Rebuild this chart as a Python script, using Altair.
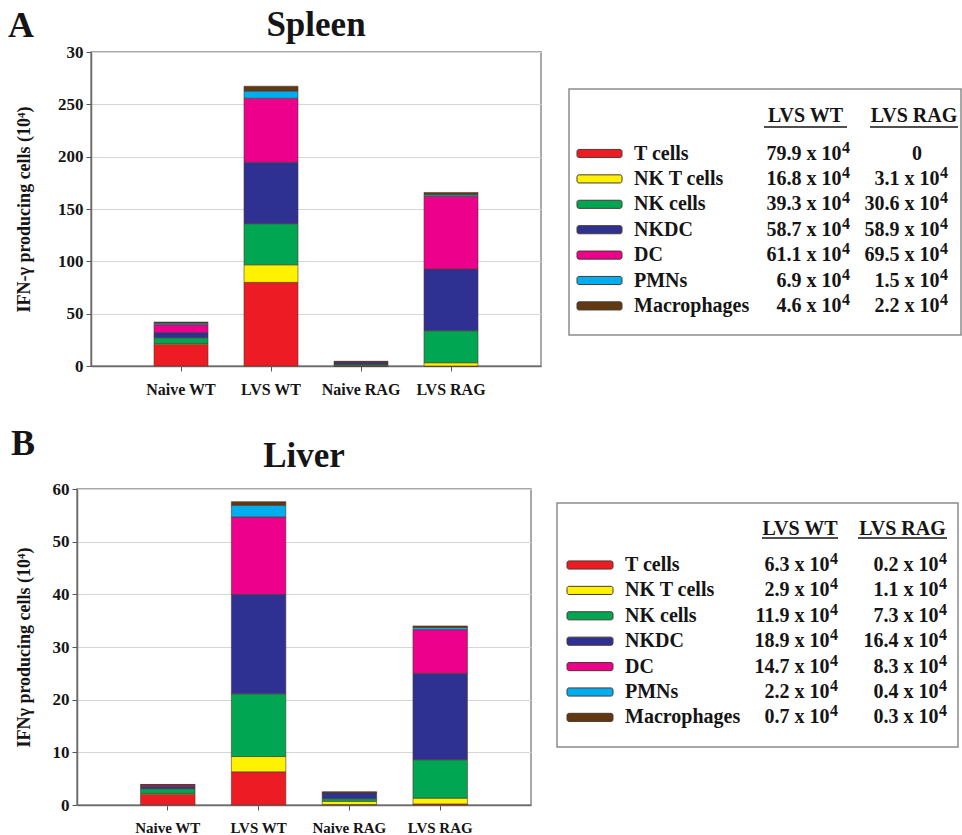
import altair as alt
import pandas as pd

# ---------------- data ----------------
cell_types = ["T cells", "NK T cells", "NK cells", "NKDC", "DC", "PMNs", "Macrophages"]
cell_colors = ["#ed1c24", "#fff200", "#00a651", "#2e3192", "#ec008c", "#00aeef", "#603913"]
groups = ["Naive WT", "LVS WT", "Naive RAG", "LVS RAG"]
column_headers = ["LVS WT", "LVS RAG"]

# Spleen (x 10^4 IFN-gamma producing cells), stacked in cell_types order
spleen_naive_wt = [20.5, 1.0, 5.5, 5.0, 7.5, 1.5, 1.0]
spleen_lvs_wt = [79.9, 16.8, 39.3, 58.7, 61.1, 6.9, 4.6]
spleen_naive_rag = [0.0, 0.3, 1.2, 2.0, 0.5, 0.2, 0.3]
spleen_lvs_rag = [0.0, 3.1, 30.6, 58.9, 69.5, 1.5, 2.2]

# Liver
liver_naive_wt = [2.0, 0.2, 0.9, 0.4, 0.3, 0.05, 0.05]
liver_lvs_wt = [6.3, 2.9, 11.9, 18.9, 14.7, 2.2, 0.7]
liver_naive_rag = [0.1, 0.6, 0.5, 1.1, 0.05, 0.05, 0.1]
liver_lvs_rag = [0.2, 1.1, 7.3, 16.4, 8.3, 0.4, 0.3]

spleen_y_ticks = [0, 50, 100, 150, 200, 250, 300]
liver_y_ticks = [0, 10, 20, 30, 40, 50, 60]

FONT = "Liberation Serif"
INK = "#151515"


def bar_frame(group_values):
    rows = []
    for g, vals in zip(groups, group_values):
        for i, (c, v) in enumerate(zip(cell_types, vals)):
            rows.append({"group": g, "cell": c, "order": i, "value": v})
    return pd.DataFrame(rows)


def bar_panel(group_values, title, letter, y_title, y_max, y_ticks, width, height,
              title_pad, title_y, letter_x, letter_y, xfont, label_expr=None):
    yaxis_kw = dict(values=y_ticks, title=y_title, titleFont=FONT, titleFontSize=18,
                    titleFontWeight="bold", titleColor=INK, titlePadding=title_pad,
                    labelFont=FONT, labelFontSize=17, labelFontWeight="bold", labelColor=INK,
                    labelPadding=3, tickSize=5, tickColor="#555555", domainColor="#6b6b6b",
                    domainWidth=1.5, grid=True, gridColor="#d6d6d6", gridWidth=1)
    if label_expr:
        yaxis_kw["labelExpr"] = label_expr
    bars = alt.Chart(bar_frame(group_values)).mark_bar(stroke="#4f3a2e", strokeWidth=0.6).encode(
        x=alt.X("group:N", sort=groups,
                scale=alt.Scale(paddingInner=0.4, paddingOuter=0.7),
                axis=alt.Axis(title=None, labelAngle=0, labelFont=FONT, labelFontSize=xfont,
                              labelFontWeight="bold", labelColor=INK, labelPadding=10,
                              tickSize=5, tickColor="#555555", domainColor="#6b6b6b",
                              domainWidth=1.5, grid=False)),
        y=alt.Y("value:Q", stack="zero", scale=alt.Scale(domain=[0, y_max], nice=False),
                axis=alt.Axis(**yaxis_kw)),
        color=alt.Color("cell:N", scale=alt.Scale(domain=cell_types, range=cell_colors), legend=None),
        order=alt.Order("order:Q", sort="ascending"),
    )
    tdf = pd.DataFrame({"t": [letter], "title": [title]})
    tag = alt.Chart(tdf).mark_text(
        align="left", baseline="alphabetic", font=FONT, fontSize=36, fontWeight="bold", color=INK
    ).encode(x=alt.value(letter_x), y=alt.value(letter_y), text="t:N")
    head = alt.Chart(tdf).mark_text(
        align="center", baseline="alphabetic", font=FONT, fontSize=35, fontWeight="bold", color=INK
    ).encode(x=alt.value(width / 2), y=alt.value(title_y), text="title:N")
    return alt.layer(bars, tag, head).properties(width=width, height=height)


def table_panel(wt_vals, rag_vals, p):
    df = pd.DataFrame({"cell": cell_types, "row": list(range(len(cell_types))),
                       "wt": wt_vals, "rag": rag_vals})
    lo = -p["row0"] / p["step"]
    hi = (p["h"] - p["row0"]) / p["step"]
    yscale = alt.Scale(domain=[lo, hi], reverse=True, nice=False, zero=False)
    yenc = alt.Y("row:Q", scale=yscale, axis=None)
    base = alt.Chart(df).transform_calculate(
        wt_txt="format(datum.wt, '.1f') + ' x 10'",
        rag_txt="format(datum.rag, '.1f') + ' x 10'",
        top="datum.row - 0.16",
        bot="datum.row + 0.16",
    )
    tk = dict(font=FONT, fontSize=20, fontWeight="bold", color=INK, baseline="middle")
    sk = dict(font=FONT, fontSize=16, fontWeight="bold", color=INK, baseline="middle", dy=-6)
    layers = []
    layers.append(base.mark_rect(stroke="#4a3a30", strokeWidth=1, cornerRadius=2).encode(
        x=alt.value(p["sw"][0]), x2=alt.value(p["sw"][1]),
        y=alt.Y("top:Q", scale=yscale, axis=None), y2="bot:Q",
        color=alt.Color("cell:N", scale=alt.Scale(domain=cell_types, range=cell_colors), legend=None)))
    layers.append(base.mark_text(align="left", **tk).encode(
        x=alt.value(p["lab_x"]), y=yenc, text="cell:N"))
    for key, right, center in (("wt", p["wt_r"], p["wt_c"]), ("rag", p["rag_r"], p["rag_c"])):
        nz = base.transform_filter(f"datum.{key} != 0")
        layers.append(nz.mark_text(align="right", **tk).encode(
            x=alt.value(right - p["sup_w"]), y=yenc, text=f"{key}_txt:N"))
        layers.append(nz.mark_text(align="right", **sk).encode(
            x=alt.value(right), y=yenc, text=alt.value("4")))
        layers.append(base.transform_filter(f"datum.{key} == 0").mark_text(align="center", **tk).encode(
            x=alt.value(center), y=yenc, text=alt.value("0")))
    for name, (x0, x1) in zip(column_headers, (p["ul_wt"], p["ul_rag"])):
        hdf = pd.DataFrame({"h": [name]})
        layers.append(alt.Chart(hdf).mark_text(align="center", **tk).encode(
            x=alt.value((x0 + x1) / 2), y=alt.value(p["hdr_y"]), text="h:N"))
        layers.append(alt.Chart(hdf).mark_rule(color=INK, strokeWidth=1.4).encode(
            x=alt.value(x0), x2=alt.value(x1), y=alt.value(p["ul_y"])))
    return alt.layer(*layers).properties(width=p["w"], height=p["h"])


def spacer(h, lead=0):
    # invisible spacer; `lead` pushes the following column to the right
    return alt.Chart(pd.DataFrame({"s": [0]})).mark_point(size=0, opacity=0, strokeWidth=0).encode(
        x=alt.value(-lead), y=alt.value(4)
    ).properties(width=1, height=h, view=alt.ViewBackground(stroke="transparent", strokeWidth=0))


spleen = bar_panel([spleen_naive_wt, spleen_lvs_wt, spleen_naive_rag, spleen_lvs_rag],
                   "Spleen", "A", "IFN-\u03b3 producing cells (10\u2074)", 300, spleen_y_ticks,
                   450, 314, title_pad=24, title_y=-16, letter_x=-83, letter_y=-15, xfont=16,
                   label_expr="datum.value == 300 ? '30' : datum.label")
liver = bar_panel([liver_naive_wt, liver_lvs_wt, liver_naive_rag, liver_lvs_rag],
                  "Liver", "B", "IFN\u03b3 producing cells (10\u2074)", 60, liver_y_ticks,
                  454, 316, title_pad=19, title_y=-22, letter_x=-66, letter_y=-34, xfont=15)

tab_a = table_panel(spleen_lvs_wt, spleen_lvs_rag, dict(
    w=392, h=246, hdr_y=27, ul_y=38, row0=64.5, step=25.4, sw=(8, 53), lab_x=65,
    wt_r=281, wt_c=240, rag_r=379, rag_c=348, sup_w=8.5, ul_wt=(195, 278), ul_rag=(301, 389)))
tab_b = table_panel(liver_lvs_wt, liver_lvs_rag, dict(
    w=401, h=244, hdr_y=26, ul_y=35, row0=62, step=25.4, sw=(10, 56), lab_x=68,
    wt_r=281, wt_c=243, rag_r=390, rag_c=350, sup_w=8.5, ul_wt=(205, 281), ul_rag=(301, 390)))

# col 0: thin invisible anchors so that each row is laid out from its left edge
row_a = alt.hconcat(spacer(10), spleen, alt.vconcat(spacer(36, lead=21), tab_a, spacing=0), spacing=6)
row_b = alt.hconcat(spacer(10), liver, alt.vconcat(spacer(13, lead=16), tab_b, spacing=0), spacing=9)

chart = alt.vconcat(row_a, row_b, spacing=27).properties(
    padding={"left": 0, "top": 7, "right": 0, "bottom": 0}, background="white"
).configure_view(stroke="#8c8c8c", strokeWidth=1.5)

chart.save("out.html", embed_options={"renderer": "svg", "actions": False})
